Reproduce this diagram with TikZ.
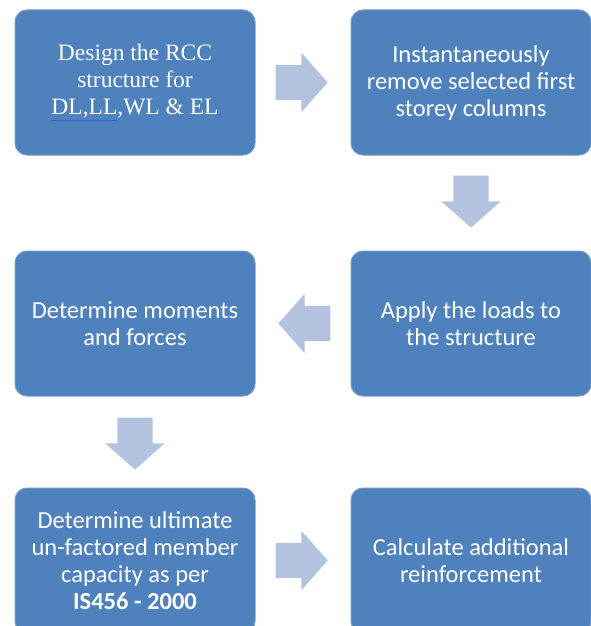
\documentclass[tikz,border=0pt]{standalone}
\usepackage{fontspec}
\setmainfont{Carlito}
\newfontfamily\serifbox{Liberation Serif}
\usepackage{xcolor}
\usetikzlibrary{positioning, shapes.arrows}
\definecolor{boxblue}{HTML}{4F81BD}
\definecolor{arrowblue}{HTML}{B3C2DE}
\definecolor{lineblue}{HTML}{3C5FD0}

\begin{document}
\begin{tikzpicture}[node distance=95pt,
    stepbox/.style={rectangle, rounded corners=12pt, fill=boxblue, draw=boxblue!80!white, line width=1pt,
        minimum width=240pt, minimum height=145pt, align=center, text=white, font=\fontsize{24.5}{27}\selectfont},
    flowarrow/.style={single arrow, fill=arrowblue, minimum height=52pt, inner xsep=0pt, inner ysep=17.5pt,
        single arrow head extend=12pt, single arrow tip angle=97, anchor=tail, pos=0.21}]
    \useasboundingbox (0,0) rectangle (590pt,-626pt);

    \node[stepbox, font=\serifbox\fontsize{23.5}{27}\selectfont] (design) at (135pt,-82.5pt)
        {Design the RCC\\ structure for\\ \textcolor{lineblue}{\underline{\textcolor{white}{DL,LL}}},WL \& EL};
    \node[stepbox] (remove) [right=of design] {Instantaneously\\ remove selected first\\ storey columns};
    \node[stepbox] (loads) [below=of remove] {Apply the loads to\\ the structure};
    \node[stepbox] (moments) [left=of loads] {Determine moments\\ and forces};
    \node[stepbox] (capacity) [below=91pt of moments] {Determine ultimate\\ un-factored member\\ capacity as per\\ \textbf{IS456 - 2000}};
    \node[stepbox] (reinf) [right=of capacity] {Calculate additional\\ reinforcement};

    \path (design) -- (remove) node[flowarrow] (ar1) {};
    \path (remove) -- (loads) node[flowarrow, rotate=-90] (ar2) {};
    \path (loads) -- (moments) node[flowarrow, rotate=180] (ar3) {};
    \path (moments) -- (capacity) node[flowarrow, rotate=-90, pos=0.23] (ar4) {};
    \path (capacity) -- (reinf) node[flowarrow] (ar5) {};
\end{tikzpicture}
\end{document}
